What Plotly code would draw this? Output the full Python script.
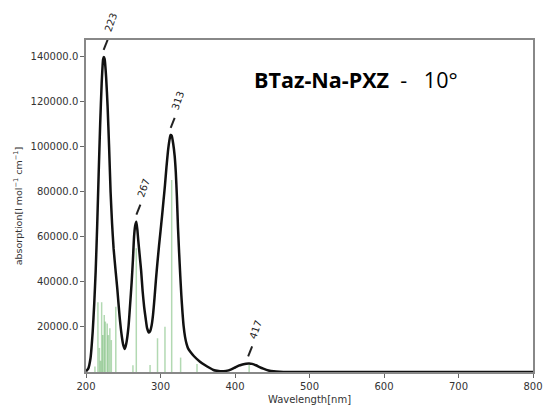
import plotly.graph_objects as go

# Broadened absorption spectrum (nm, absorption)
wl = [200, 203, 206, 209, 211, 213, 215, 217, 219, 221, 223, 224, 225, 227, 229, 231, 233,
      235, 237, 240, 242, 245, 248, 250, 252, 254, 257, 259, 261.3, 263, 264.5, 266, 267.6,
      269, 270, 272, 274, 276, 278, 280, 282, 284.5, 286, 288, 290, 292, 294, 296, 298,
      300, 302, 304, 306, 308, 310, 312, 313.5, 315, 317, 319, 320.5, 322, 323.5, 325,
      326.5, 328, 329.5, 331, 333, 335, 337, 340, 345, 353, 360, 365, 371, 378, 382, 388,
      395, 400, 405, 410, 415, 419, 423, 428, 433, 438, 445, 452, 460, 470, 500, 600, 700, 800]
absorb = [300, 1500, 6000, 18000, 30000, 45000, 65000, 88000, 110000, 128000, 139000, 140000,
          139000, 131000, 118000, 100000, 80000, 66000, 55000, 44000, 37000, 25000, 16000,
          12000, 10200, 12500, 20000, 29000, 40000, 50000, 60000, 65000, 66800, 63000, 59000,
          52000, 45000, 36000, 29000, 24000, 19500, 17500, 18000, 20500, 25500, 33000, 41500,
          49000, 56000, 62500, 69000, 76000, 83000, 91000, 98000, 103000, 105300, 105000,
          101500, 96000, 89000, 78000, 64000, 53000, 43000, 34000, 26500, 20500, 15500, 12500,
          10500, 9000, 7000, 4600, 3000, 2000, 900, 400, 300, 500, 1200, 2000, 2800, 3300,
          3700, 3800, 3600, 3000, 2200, 1500, 700, 300, 100, 0, 0, 0, 0, 0]

# Oscillator sticks (nm, height)
stick_wl = [212, 216, 218, 219.5, 221, 222.5, 224.5, 226, 228.5, 230, 232, 234, 240,
            263, 267.5, 286, 296, 306, 315, 327, 349, 419]
stick_h = [2400, 31000, 10700, 5000, 31000, 16400, 25300, 22400, 21500, 16400, 19400,
           14200, 29000, 3000, 55000, 3100, 15000, 20100, 85300, 6400, 3500, 3100]

# Peak labels
peak_wl = [223, 267, 313, 417]
peak_val = [140000, 66800, 105300, 3800]

x_ticks = [200, 300, 400, 500, 600, 700, 800]
y_ticks = [20000, 40000, 60000, 80000, 100000, 120000, 140000]

X_RANGE = [200, 800]
Y_RANGE = [0, 147500]
W, H = 546, 405
M = dict(l=86, r=11, t=40, b=33)
nm_per_px = (X_RANGE[1] - X_RANGE[0]) / (W - M["l"] - M["r"])
val_per_px = (Y_RANGE[1] - Y_RANGE[0]) / (H - M["t"] - M["b"])

fig = go.Figure()

sx, sy = [], []
for w, h in zip(stick_wl, stick_h):
    sx += [w, w, None]
    sy += [0, h, None]
fig.add_trace(go.Scatter(x=sx, y=sy, mode="lines",
                         line=dict(color="rgba(0,128,0,0.3)", width=1.5),
                         hoverinfo="skip", showlegend=False))

fig.add_trace(go.Scatter(x=wl, y=absorb, mode="lines",
                         line=dict(color="#111111", width=2.5, shape="spline", smoothing=0.5),
                         showlegend=False))

# short marker dashes above each labelled peak (offsets in pixels)
dx, dy = [], []
for w, v in zip(peak_wl, peak_val):
    dx += [w + 0.5 * nm_per_px, w + 4.5 * nm_per_px, None]
    dy += [v + 7 * val_per_px, v + 17 * val_per_px, None]
fig.add_trace(go.Scatter(x=dx, y=dy, mode="lines", line=dict(color="#222222", width=2),
                         hoverinfo="skip", showlegend=False))

annotations = []
for w, v in zip(peak_wl, peak_val):
    annotations.append(dict(x=w, y=v, xref="x", yref="y", text=str(w), showarrow=False,
                            textangle=-70, xshift=8, yshift=34,
                            font=dict(family="DejaVu Sans", size=10, color="#222222")))

axis_common = dict(showline=True, mirror=True, linecolor="#888888", linewidth=1.5,
                   ticks="outside", ticklen=4, tickwidth=1, tickcolor="#666666",
                   showgrid=False, zeroline=False,
                   tickfont=dict(family="DejaVu Sans", size=10, color="#333333"))

fig.update_layout(
    width=W, height=H,
    margin=M,
    paper_bgcolor="white", plot_bgcolor="white",
    title=dict(text="<b>BTaz-Na-PXZ</b>\u00a0\u00a0-\u00a0\u00a0\u00a010°",
               x=0.376, y=0.8795, xref="paper", yref="paper", xanchor="left",
               yanchor="middle",
               font=dict(family="Open Sans", size=21.5, color="#000000")),
    xaxis=dict(range=X_RANGE, tickvals=x_ticks, ticktext=[str(t) for t in x_ticks],
               automargin=False,
               title=dict(text="Wavelength[nm]",
                          font=dict(family="DejaVu Sans", size=10, color="#333333")),
               **axis_common),
    yaxis=dict(range=Y_RANGE, tickvals=y_ticks, ticktext=[f"{t:.1f}" for t in y_ticks],
               automargin=True,
               title=dict(text="absorption[l mol<sup>−1</sup> cm<sup>−1</sup>]", standoff=6,
                          font=dict(family="DejaVu Sans", size=9.5, color="#333333")),
               **axis_common),
    annotations=annotations,
)

fig.write_html("out.html")
